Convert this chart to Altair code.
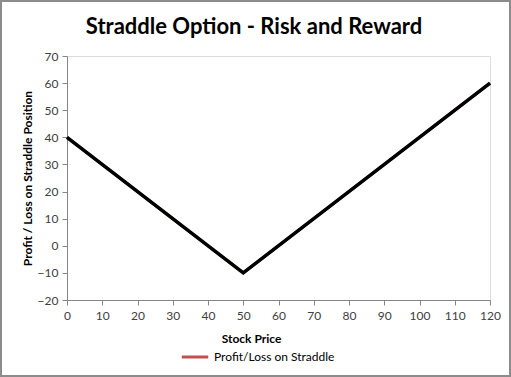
import altair as alt
import pandas as pd

stock_price = [0, 50, 120]
profit_loss = [40, -10, 60]
series_name = "Profit/Loss on Straddle"
chart_title = "Straddle Option - Risk and Reward"
x_ticks = list(range(0, 121, 10))
y_ticks = list(range(-20, 71, 10))

df = pd.DataFrame({"price": stock_price, "pl": profit_loss, "series": [series_name] * len(stock_price)})

FONT = "Lato"
W, H = 423, 244
PL, PT = 67, 56

x = alt.X("price:Q", scale=alt.Scale(domain=[0, 120], nice=False, zero=False),
          axis=alt.Axis(values=x_ticks, title="Stock Price", titleX=184, titleY=33,
                        grid=False, domainColor="#868686", tickColor="#868686", tickSize=5,
                        labelColor="#404040", labelFont=FONT, labelFontSize=12, labelPadding=5,
                        labelFlush=False,
                        titleFont=FONT, titleFontSize=12, titleFontWeight="bold", titleColor="#000000"))
y = alt.Y("pl:Q", scale=alt.Scale(domain=[-20, 70], nice=False, zero=False),
          axis=alt.Axis(values=y_ticks, title="Profit / Loss on Straddle Position", titleX=-33,
                        grid=False, domainColor="#868686", tickColor="#868686", tickSize=5,
                        labelColor="#404040", labelFont=FONT, labelFontSize=12, labelPadding=4,
                        labelFlush=False,
                        titleFont=FONT, titleFontSize=12, titleFontWeight="bold", titleColor="#000000"))

red = alt.Chart(df).mark_line(strokeWidth=3).encode(
    x=x, y=y,
    color=alt.Color("series:N", scale=alt.Scale(range=["#C0504D"]),
                    legend=alt.Legend(title=None, orient="none", legendX=113, legendY=286,
                                      symbolType="stroke", symbolStrokeWidth=3, symbolSize=700,
                                      labelFont=FONT, labelFontSize=12, labelColor="#000000")),
)
black = alt.Chart(df).mark_line(strokeWidth=3.5, color="#000000").encode(x=x, y=y)

title_df = pd.DataFrame({"t": [chart_title]})
title = alt.Chart(title_df).mark_text(font=FONT, fontSize=22, fontWeight="bold", color="#000000",
                                      align="center", baseline="middle").encode(
    text="t:N", x=alt.value(187), y=alt.value(-29)
)

border = alt.Chart(df).mark_rect(fill=None, stroke="#8c8c8c", strokeWidth=2).encode(
    x=alt.value(-PL + 1), x2=alt.value(W + 21 - 1), y=alt.value(-PT + 1), y2=alt.value(H + 77 - 1)
)

chart = alt.layer(red, black, title, border).properties(
    width=W, height=H,
    autosize=alt.AutoSizeParams(type="none"),
    padding={"left": PL, "top": PT, "right": 21, "bottom": 77},
).configure_view(stroke=None).configure(background="#ffffff")

chart.save("out.html", embed_options={"renderer": "svg", "actions": False})
